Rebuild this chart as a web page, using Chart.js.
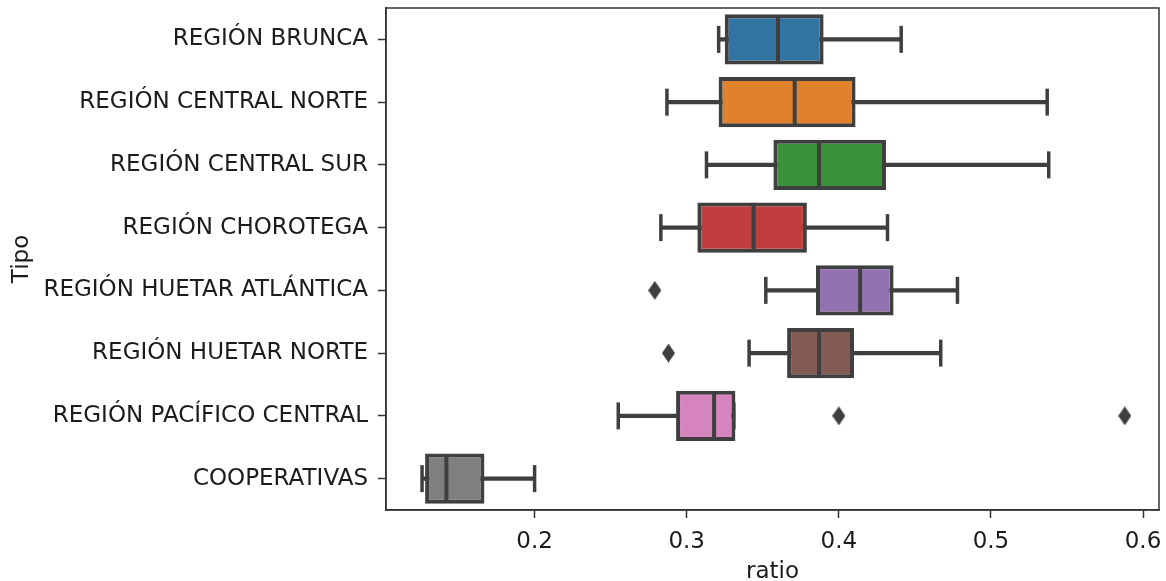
<!DOCTYPE html>
<html>
<head>
<meta charset="utf-8">
<script src="https://cdn.jsdelivr.net/npm/chart.js@4.4.1/dist/chart.umd.min.js"></script>
<style>
  html, body { margin: 0; padding: 0; background: #ffffff; }
  canvas { display: block; }
</style>
</head>
<body>
<canvas id="boxChart" width="1166" height="581"></canvas>
<script>
// ============================
// data
const categories = [
  "REGIÓN BRUNCA",
  "REGIÓN CENTRAL NORTE",
  "REGIÓN CENTRAL SUR",
  "REGIÓN CHOROTEGA",
  "REGIÓN HUETAR ATLÁNTICA",
  "REGIÓN HUETAR NORTE",
  "REGIÓN PACÍFICO CENTRAL",
  "COOPERATIVAS"
];
const whiskerLow  = [0.321, 0.287, 0.313, 0.283, 0.352, 0.341, 0.255, 0.126];
const q1          = [0.325, 0.321, 0.357, 0.307, 0.385, 0.366, 0.293, 0.128];
const median      = [0.360, 0.371, 0.387, 0.344, 0.414, 0.387, 0.318, 0.142];
const q3          = [0.390, 0.411, 0.431, 0.379, 0.436, 0.410, 0.332, 0.167];
const whiskerHigh = [0.441, 0.537, 0.538, 0.432, 0.478, 0.467, 0.331, 0.200];
const outliers    = [[], [], [], [], [0.279], [0.288], [0.400, 0.588], []];
const xTicks = [0.2, 0.3, 0.4, 0.5, 0.6];

const boxColors = ["#3274a1", "#e1812c", "#3a923a", "#c03d3e", "#9372b2", "#845b53", "#d684bd", "#7f7f7f"];
const lineColor = "#3f3f3f";
const textColor = "#1c1c1c";
const font = { family: "'DejaVu Sans', sans-serif", size: 23, lineHeight: 1 };

// ============================
function diamond() {
  const c = document.createElement("canvas");
  c.width = 13;
  c.height = 19;
  const ctx = c.getContext("2d");
  ctx.fillStyle = lineColor;
  ctx.beginPath();
  ctx.moveTo(6.5, 0);
  ctx.lineTo(13, 9.5);
  ctx.lineTo(6.5, 19);
  ctx.lineTo(0, 9.5);
  ctx.closePath();
  ctx.fill();
  return c;
}

// ============================
const capPoints = [];
categories.forEach((cat, i) => {
  capPoints.push({ x: whiskerLow[i], y: cat });
  capPoints.push({ x: whiskerHigh[i], y: cat });
});

const medianPoints = categories.map((cat, i) => ({ x: median[i], y: cat }));

const outlierPoints = [];
categories.forEach((cat, i) => {
  outlierPoints.push(...outliers[i].map(v => ({ x: v, y: cat })));
});

const frame = {
  id: "frame",
  afterDraw(chart) {
    const a = chart.chartArea;
    const ctx = chart.ctx;
    ctx.save();
    ctx.strokeStyle = "#333333";
    ctx.lineWidth = 1.5;
    ctx.strokeRect(a.left, a.top, a.right - a.left, a.bottom - a.top);
    ctx.restore();
  }
};

new Chart(document.getElementById("boxChart"), {
  type: "bar",
  data: {
    labels: categories,
    datasets: [
      {
        type: "bar",
        data: categories.map((c, i) => [q1[i], q3[i]]),
        backgroundColor: boxColors,
        borderColor: lineColor,
        borderWidth: 4,
        borderSkipped: false,
        barPercentage: 0.8,
        categoryPercentage: 1,
        grouped: false,
        order: 2
      },
      {
        type: "bar",
        data: categories.map((c, i) => [whiskerLow[i], whiskerHigh[i]]),
        backgroundColor: lineColor,
        borderWidth: 0,
        barThickness: 3.5,
        grouped: false,
        order: 4
      },
      {
        type: "scatter",
        data: capPoints,
        pointStyle: "line",
        rotation: 90,
        radius: 13.5,
        borderWidth: 3.5,
        borderColor: lineColor,
        order: 3
      },
      {
        type: "scatter",
        data: medianPoints,
        pointStyle: "line",
        rotation: 90,
        radius: 24,
        borderWidth: 4,
        borderColor: lineColor,
        order: 1
      },
      {
        type: "scatter",
        data: outlierPoints,
        pointStyle: diamond(),
        radius: 8,
        order: 0
      }
    ]
  },
  options: {
    indexAxis: "y",
    responsive: false,
    animation: false,
    devicePixelRatio: 1,
    layout: { padding: { top: 8, right: 7, left: 0, bottom: 0 }, autoPadding: false },
    plugins: {
      legend: { display: false },
      tooltip: { enabled: false }
    },
    scales: {
      x: {
        type: "linear",
        min: 0.1023,
        max: 0.6105,
        afterBuildTicks: s => { s.ticks = xTicks.map(v => ({ value: v })); },
        afterFit: s => { s.height = 71; s.paddingLeft = 0; s.paddingRight = 0; },
        grid: { drawOnChartArea: false, tickLength: 8, tickWidth: 1.5, tickColor: "#333333" },
        border: { color: "#333333", width: 1.5 },
        ticks: { font: font, color: textColor, padding: 13, maxRotation: 0, callback: v => v.toFixed(1) },
        title: { display: true, text: "ratio", font: font, color: textColor, padding: { top: 0, bottom: -3 } }
      },
      y: {
        type: "category",
        offset: true,
        afterFit: s => { s.width = 386; s.paddingTop = 0; s.paddingBottom = 0; },
        grid: { offset: false, drawOnChartArea: false, tickLength: 8, tickWidth: 1.5, tickColor: "#333333" },
        border: { color: "#333333", width: 1.5 },
        ticks: { font: font, color: textColor, padding: 10 },
        title: { display: true, text: "Tipo", font: font, color: textColor, padding: { top: 11, bottom: 0 } }
      }
    }
  },
  plugins: [frame]
});
</script>
</body>
</html>
